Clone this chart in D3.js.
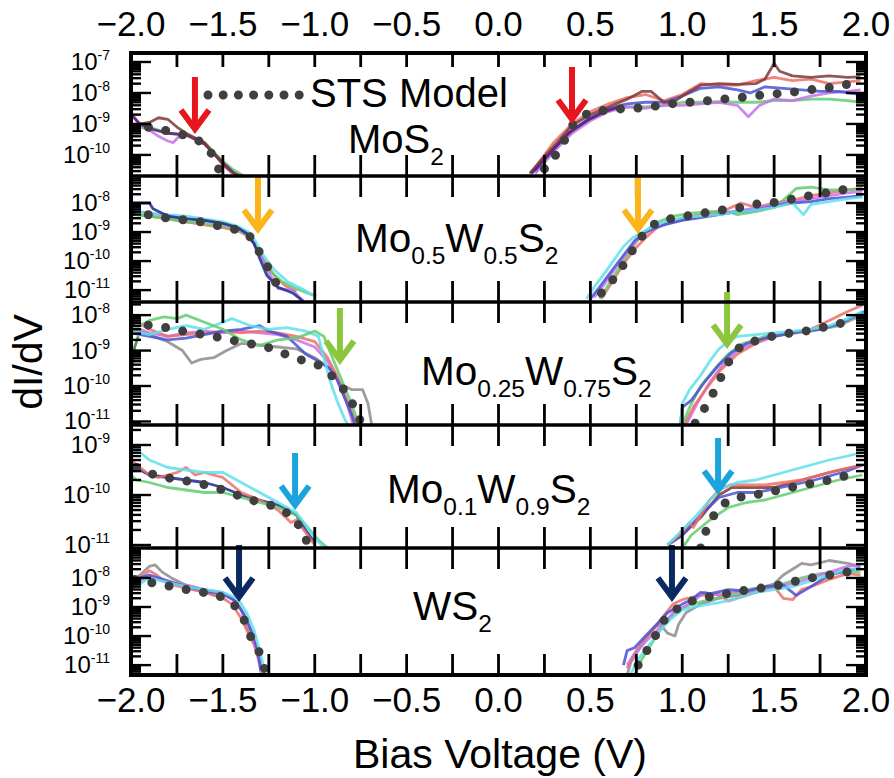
<!DOCTYPE html>
<html><head><meta charset="utf-8">
<script src="https://cdn.jsdelivr.net/npm/d3@7"></script>
<style>body{margin:0;background:#fff;} svg{display:block;font-family:"Liberation Sans",Arial,sans-serif;}</style>
</head><body><svg id="c" width="894" height="778"></svg>
<script>
// ---------------- DATA (values are log10 of dI/dV) ----------------
const xTickValues = [-2.0,-1.5,-1.0,-0.5,0.0,0.5,1.0,1.5,2.0];
const panelNames = ["MoS2","Mo0.5W0.5S2","Mo0.25W0.75S2","Mo0.1W0.9S2","WS2"];
const yDomainsExp = [[-10.68,-6.71],[-11.41,-7.07],[-11.10,-7.63],[-11.06,-8.60],[-11.34,-6.97]];
const yTickExps = [[-7,-8,-9,-10],[-8,-9,-10,-11],[-8,-9,-10,-11],[-9,-10,-11],[-8,-9,-10,-11]];
const arrowV = [[-1.652,0.40],[-1.309,0.759],[-0.863,1.244],[-1.107,1.195],[-1.412,0.944]];
const arrowTipExp = [[-9.26,-8.94],[-9.0,-9.0],[-9.35,-8.9],[-10.26,-9.96],[-8.76,-8.76]];

// Panel 1: MoS2
const p1_model_L = [[-2.0,-9.12],[-1.91,-9.1],[-1.82,-9.2],[-1.72,-9.35],[-1.64,-9.5],[-1.58,-9.8],[-1.55,-10.06],[-1.52,-10.5],[-1.51,-10.6]];
const p1_model_R = [[0.25,-10.45],[0.32,-9.94],[0.37,-9.42],[0.41,-8.97],[0.5,-8.6],[0.6,-8.55],[0.69,-8.5],[0.79,-8.48],[0.88,-8.4],[0.98,-8.32],[1.07,-8.29],[1.17,-8.23],[1.27,-8.17],[1.36,-8.12],[1.46,-8.05],[1.56,-8.0],[1.65,-7.94],[1.75,-7.85],[1.84,-7.8],[1.93,-7.68],[1.97,-7.62]];
const p1_brown_L = [[-2.0,-9.1],[-1.95,-9.0],[-1.9,-8.95],[-1.85,-8.8],[-1.8,-8.85],[-1.75,-9.1],[-1.7,-9.3],[-1.65,-9.45],[-1.6,-9.6],[-1.55,-9.95],[-1.5,-10.3],[-1.45,-10.55],[-1.4,-10.7]];
const p1_violet_L = [[-2.0,-8.6],[-1.95,-9.1],[-1.9,-9.2],[-1.85,-9.4],[-1.8,-9.55],[-1.77,-9.6],[-1.73,-9.35],[-1.68,-9.4],[-1.6,-9.65],[-1.55,-9.95],[-1.5,-10.3],[-1.45,-10.6]];
const p1_green_L = [[-2.0,-9.3],[-1.95,-9.05],[-1.9,-9.1],[-1.85,-9.2],[-1.8,-9.3],[-1.7,-9.35],[-1.6,-9.6],[-1.55,-9.9],[-1.5,-10.2],[-1.45,-10.45],[-1.38,-10.7]];
const p1_purple_L = [[-2.0,-8.7],[-1.95,-9.0],[-1.9,-9.15],[-1.8,-9.3],[-1.7,-9.35],[-1.6,-9.65],[-1.5,-10.25],[-1.42,-10.7]];
const p1_brown_R = [[0.17,-10.6],[0.25,-10.05],[0.32,-9.6],[0.4,-9.05],[0.5,-8.7],[0.6,-8.45],[0.7,-8.2],[0.78,-7.95],[0.83,-7.95],[0.9,-8.3],[0.95,-8.3],[1.0,-8.1],[1.1,-7.75],[1.2,-7.7],[1.3,-7.72],[1.4,-7.7],[1.45,-7.55],[1.5,-7.05],[1.53,-7.3],[1.6,-7.45],[1.7,-7.5],[1.8,-7.45],[1.9,-7.5],[1.97,-7.48]];
const p1_red_R = [[0.18,-10.55],[0.3,-9.6],[0.4,-9.0],[0.5,-8.6],[0.6,-8.35],[0.7,-8.15],[0.8,-8.05],[0.9,-8.25],[1.0,-8.05],[1.1,-7.7],[1.2,-7.75],[1.3,-7.75],[1.4,-7.6],[1.5,-7.5],[1.6,-7.6],[1.7,-7.55],[1.8,-7.7],[1.97,-7.6]];
const p1_blue_R = [[0.2,-10.5],[0.3,-9.8],[0.4,-9.2],[0.5,-8.8],[0.6,-8.5],[0.7,-8.35],[0.8,-8.3],[0.9,-8.3],[1.0,-8.1],[1.1,-7.85],[1.2,-7.8],[1.3,-7.9],[1.37,-8.0],[1.45,-7.8],[1.55,-7.85],[1.65,-7.9],[1.75,-7.95],[1.85,-7.95],[1.97,-8.05]];
const p1_violet_R = [[0.2,-10.6],[0.3,-9.9],[0.4,-9.3],[0.5,-8.9],[0.6,-8.6],[0.7,-8.45],[0.8,-8.5],[0.9,-8.4],[1.0,-8.4],[1.1,-8.35],[1.2,-8.3],[1.3,-8.4],[1.36,-8.77],[1.42,-8.4],[1.5,-8.2],[1.6,-8.25],[1.7,-8.1],[1.8,-8.0],[1.9,-7.95],[1.97,-7.9]];
const p1_green_R = [[0.2,-10.55],[0.3,-9.85],[0.4,-9.25],[0.5,-8.85],[0.6,-8.55],[0.7,-8.45],[0.8,-8.45],[0.9,-8.4],[1.0,-8.3],[1.1,-8.3],[1.2,-8.28],[1.3,-8.3],[1.4,-8.3],[1.5,-8.25],[1.6,-8.25],[1.7,-8.2],[1.8,-8.2],[1.9,-8.25],[1.97,-8.3]];
const p1_purple_R = [[0.18,-10.6],[0.28,-9.95],[0.38,-9.3],[0.48,-8.9],[0.58,-8.6],[0.68,-8.4]];

// Panel 2: Mo0.5W0.5S2
const p2_model_L = [[-2.0,-8.32],[-1.9,-8.41],[-1.8,-8.52],[-1.7,-8.59],[-1.61,-8.66],[-1.52,-8.79],[-1.42,-8.93],[-1.36,-9.1],[-1.33,-9.34],[-1.29,-9.83],[-1.24,-10.38],[-1.2,-10.9],[-1.19,-11.0]];
const p2_model_R = [[0.56,-11.1],[0.57,-11.0],[0.64,-10.52],[0.69,-10.03],[0.74,-9.52],[0.8,-8.97],[0.87,-8.62],[0.96,-8.52],[1.06,-8.41],[1.15,-8.31],[1.25,-8.21],[1.34,-8.14],[1.43,-8.0],[1.53,-7.97],[1.62,-7.83],[1.72,-7.72],[1.82,-7.62],[1.92,-7.48],[1.96,-7.44]];
const p2_darkblue_L = [[-2.0,-8.0],[-1.9,-8.0],[-1.88,-8.2],[-1.8,-8.45],[-1.7,-8.55],[-1.6,-8.6],[-1.5,-8.7],[-1.42,-8.85],[-1.37,-9.05],[-1.33,-9.4],[-1.3,-9.9],[-1.26,-10.5],[-1.2,-10.9],[-1.12,-11.1],[-1.06,-11.4]];
const p2_cyan_L = [[-2.0,-8.3],[-1.9,-8.35],[-1.8,-8.4],[-1.7,-8.45],[-1.6,-8.55],[-1.5,-8.65],[-1.42,-8.8],[-1.36,-9.0],[-1.32,-9.35],[-1.28,-9.8],[-1.22,-10.3],[-1.15,-10.7],[-1.07,-10.95],[-1.0,-11.2]];
const p2_green_L = [[-2.0,-8.4],[-1.9,-8.45],[-1.8,-8.55],[-1.7,-8.65],[-1.6,-8.7],[-1.5,-8.8],[-1.42,-8.9],[-1.35,-9.2],[-1.3,-9.7],[-1.25,-10.3],[-1.18,-10.7],[-1.1,-10.95],[-1.02,-11.15],[-0.99,-11.2]];
const p2_red_L = [[-2.0,-8.35],[-1.9,-8.45],[-1.8,-8.55],[-1.7,-8.65],[-1.6,-8.75],[-1.5,-8.85],[-1.42,-8.95],[-1.36,-9.15],[-1.32,-9.5],[-1.28,-9.95],[-1.22,-10.5],[-1.16,-10.85],[-1.1,-11.05]];
const p2_violet_L = [[-2.0,-8.25],[-1.9,-8.35],[-1.8,-8.45],[-1.7,-8.5],[-1.6,-8.6],[-1.5,-8.7],[-1.42,-8.85],[-1.36,-9.1],[-1.3,-9.7],[-1.25,-10.4],[-1.2,-10.95],[-1.12,-11.0],[-1.06,-11.4]];
const p2_cyan_R = [[0.48,-11.3],[0.52,-10.9],[0.58,-10.4],[0.63,-9.95],[0.68,-9.5],[0.73,-9.2],[0.8,-8.95],[0.9,-8.65],[1.0,-8.5],[1.1,-8.45],[1.2,-8.4],[1.3,-8.3],[1.4,-8.25],[1.5,-8.15],[1.6,-8.0],[1.66,-8.4],[1.7,-8.05],[1.8,-7.95],[1.9,-7.85],[1.98,-7.8]];
const p2_blue_R = [[0.5,-11.3],[0.55,-10.9],[0.62,-10.3],[0.68,-9.8],[0.74,-9.3],[0.8,-9.0],[0.9,-8.75],[1.0,-8.6],[1.1,-8.5],[1.2,-8.4],[1.3,-8.3],[1.4,-8.25],[1.5,-8.1],[1.6,-8.0],[1.7,-7.95],[1.8,-7.85],[1.9,-7.8],[1.98,-7.75]];
const p2_green_R = [[0.55,-11.3],[0.6,-10.8],[0.66,-10.2],[0.72,-9.6],[0.78,-9.1],[0.85,-8.7],[0.95,-8.45],[1.05,-8.35],[1.15,-8.3],[1.25,-8.3],[1.3,-8.4],[1.4,-8.3],[1.5,-8.15],[1.55,-7.9],[1.62,-7.5],[1.7,-7.45],[1.8,-7.55],[1.9,-7.55],[1.98,-7.5]];
const p2_red_R = [[0.56,-11.3],[0.62,-10.7],[0.68,-10.1],[0.74,-9.6],[0.8,-9.2],[0.88,-8.75],[0.95,-8.6],[1.05,-8.45],[1.15,-8.35],[1.25,-8.2],[1.32,-8.0],[1.4,-8.15],[1.5,-8.0],[1.6,-7.9],[1.7,-7.75],[1.8,-7.65],[1.9,-7.55],[1.98,-7.5]];
const p2_violet_R = [[0.52,-11.25],[0.57,-10.85],[0.63,-10.3],[0.69,-9.8],[0.75,-9.3],[0.82,-8.95],[0.92,-8.7],[1.02,-8.55],[1.12,-8.45],[1.22,-8.35],[1.32,-8.25],[1.42,-8.15],[1.5,-8.05],[1.6,-7.95],[1.7,-7.85],[1.8,-7.75],[1.9,-7.65],[1.98,-7.6]];

// Panel 3: Mo0.25W0.75S2
const p3_model_L = [[-2.0,-8.2],[-1.91,-8.28],[-1.82,-8.34],[-1.72,-8.45],[-1.62,-8.54],[-1.53,-8.62],[-1.43,-8.73],[-1.34,-8.82],[-1.24,-8.93],[-1.16,-9.1],[-1.07,-9.27],[-0.98,-9.41],[-0.91,-9.69],[-0.84,-10.11],[-0.79,-10.54],[-0.76,-10.9],[-0.75,-11.0]];
const p3_model_R = [[1.07,-11.05],[1.08,-10.96],[1.13,-10.56],[1.18,-10.09],[1.22,-9.65],[1.26,-9.25],[1.32,-8.86],[1.42,-8.69],[1.51,-8.57],[1.61,-8.49],[1.71,-8.42],[1.8,-8.3],[1.9,-8.19]];
const p3_green_L = [[-2.0,-8.5],[-1.95,-8.3],[-1.9,-8.15],[-1.82,-8.05],[-1.75,-8.1],[-1.7,-8.0],[-1.6,-8.2],[-1.5,-8.4],[-1.4,-8.7],[-1.3,-8.85],[-1.2,-8.7],[-1.1,-8.65],[-1.0,-8.45],[-0.95,-8.6],[-0.92,-9.0],[-0.88,-9.5],[-0.84,-10.0],[-0.8,-10.5],[-0.76,-11.1]];
const p3_gray_L = [[-2.0,-8.4],[-1.9,-8.55],[-1.8,-8.75],[-1.72,-9.0],[-1.67,-9.35],[-1.62,-9.25],[-1.55,-9.2],[-1.48,-9.0],[-1.4,-8.8],[-1.3,-8.85],[-1.2,-8.9],[-1.1,-8.95],[-1.0,-9.2],[-0.92,-9.5],[-0.86,-9.95],[-0.8,-10.1],[-0.74,-10.1],[-0.71,-10.5],[-0.69,-11.1]];
const p3_cyan_L = [[-2.0,-8.45],[-1.9,-8.55],[-1.8,-8.4],[-1.7,-8.3],[-1.6,-8.4],[-1.5,-8.2],[-1.45,-8.1],[-1.35,-8.3],[-1.25,-8.4],[-1.15,-8.35],[-1.05,-8.45],[-0.98,-8.6],[-0.95,-9.2],[-0.92,-9.8],[-0.88,-10.4],[-0.84,-10.9],[-0.82,-11.1]];
const p3_blue_L = [[-2.0,-8.5],[-1.9,-8.6],[-1.8,-8.7],[-1.7,-8.65],[-1.6,-8.55],[-1.5,-8.45],[-1.4,-8.4],[-1.3,-8.3],[-1.25,-8.45],[-1.15,-8.6],[-1.05,-9.1],[-0.98,-9.3],[-0.92,-9.5],[-0.88,-9.8],[-0.84,-10.3],[-0.8,-10.8],[-0.78,-11.1]];
const p3_red_L = [[-2.0,-8.1],[-1.9,-8.4],[-1.8,-8.6],[-1.7,-8.55],[-1.6,-8.5],[-1.5,-8.45],[-1.4,-8.5],[-1.3,-8.45],[-1.2,-8.5],[-1.1,-8.6],[-1.0,-8.75],[-0.93,-9.2],[-0.88,-9.7],[-0.84,-10.2],[-0.8,-10.7],[-0.77,-11.1]];
const p3_violet_L = [[-2.0,-8.3],[-1.9,-8.5],[-1.8,-8.6],[-1.7,-8.5],[-1.6,-8.45],[-1.5,-8.5],[-1.4,-8.45],[-1.3,-8.5],[-1.2,-8.55],[-1.1,-8.7],[-1.0,-8.9],[-0.93,-9.3],[-0.88,-9.8],[-0.83,-10.4],[-0.79,-11.1]];
const p3_darkgreen_L = [[-2.0,-9.8],[-1.99,-9.3],[-1.98,-8.9],[-1.96,-8.6]];
const p3_cyan_R = [[0.99,-11.1],[1.0,-10.5],[1.04,-10.1],[1.1,-9.7],[1.15,-9.3],[1.2,-8.95],[1.25,-8.75],[1.3,-8.6],[1.4,-8.55],[1.5,-8.5],[1.6,-8.45],[1.7,-8.4],[1.8,-8.3],[1.9,-8.1],[1.98,-7.9]];
const p3_blue_R = [[0.99,-11.1],[1.0,-10.6],[1.05,-10.4],[1.12,-9.9],[1.2,-9.4],[1.27,-9.05],[1.35,-8.8],[1.45,-8.65],[1.55,-8.55],[1.65,-8.45],[1.75,-8.4],[1.85,-8.25],[1.95,-8.0],[1.99,-7.9]];
const p3_red_R = [[1.01,-11.1],[1.06,-10.6],[1.12,-10.15],[1.2,-9.6],[1.3,-9.1],[1.4,-8.8],[1.5,-8.6],[1.6,-8.5],[1.7,-8.4],[1.8,-8.15],[1.9,-7.9],[1.98,-7.72]];
const p3_green_R = [[1.0,-11.1],[1.04,-10.6],[1.1,-10.0],[1.18,-9.5],[1.25,-9.1],[1.33,-8.8],[1.45,-8.6],[1.6,-8.5],[1.75,-8.4],[1.85,-8.3],[1.98,-7.95]];
const p3_violet_R = [[1.02,-11.1],[1.08,-10.5],[1.15,-9.9],[1.22,-9.4],[1.3,-9.0],[1.42,-8.7],[1.55,-8.55],[1.7,-8.45],[1.85,-8.3],[1.98,-8.0]];

// Panel 4: Mo0.1W0.9S2
const p4_model_L = [[-1.97,-9.45],[-1.93,-9.53],[-1.84,-9.63],[-1.75,-9.69],[-1.65,-9.75],[-1.56,-9.83],[-1.47,-9.93],[-1.37,-10.08],[-1.29,-10.15],[-1.2,-10.25],[-1.11,-10.45],[-1.07,-10.73],[-1.03,-11.02],[-1.02,-11.06]];
const p4_model_R = [[1.1,-11.06],[1.11,-10.9],[1.14,-10.62],[1.19,-10.29],[1.26,-10.08],[1.35,-10.02],[1.44,-9.97],[1.54,-9.89],[1.63,-9.82],[1.73,-9.75],[1.82,-9.69],[1.92,-9.58]];
const p4_cyan_L = [[-2.0,-9.15],[-1.95,-9.15],[-1.9,-9.3],[-1.8,-9.45],[-1.7,-9.5],[-1.6,-9.55],[-1.5,-9.55],[-1.4,-9.75],[-1.3,-9.95],[-1.2,-10.15],[-1.1,-10.35],[-1.05,-10.6],[-1.0,-10.85],[-0.95,-11.06]];
const p4_green_L = [[-2.0,-9.6],[-1.97,-9.7],[-1.9,-9.75],[-1.8,-9.85],[-1.7,-9.9],[-1.6,-9.95],[-1.5,-9.95],[-1.4,-10.05],[-1.3,-10.15],[-1.2,-10.25],[-1.1,-10.4],[-1.05,-10.6],[-0.98,-10.9],[-0.93,-11.06]];
const p4_red_L = [[-2.0,-9.3],[-1.95,-9.45],[-1.9,-9.6],[-1.85,-9.65],[-1.8,-9.6],[-1.75,-9.55],[-1.7,-9.45],[-1.65,-9.6],[-1.6,-9.55],[-1.5,-9.65],[-1.45,-9.8],[-1.4,-9.95],[-1.3,-10.1],[-1.2,-10.3],[-1.13,-10.55],[-1.1,-10.5],[-1.05,-10.75],[-1.0,-11.0]];
const p4_darkblue_L = [[-2.0,-9.35],[-1.95,-9.5],[-1.9,-9.6],[-1.8,-9.65],[-1.7,-9.7],[-1.6,-9.75],[-1.5,-9.85],[-1.4,-10.0],[-1.3,-10.1],[-1.2,-10.2],[-1.1,-10.4],[-1.05,-10.7],[-1.0,-10.95]];
const p4_cyan_R = [[0.92,-11.0],[1.0,-10.7],[1.08,-10.4],[1.15,-10.1],[1.22,-9.85],[1.3,-9.75],[1.4,-9.7],[1.5,-9.6],[1.6,-9.5],[1.7,-9.4],[1.8,-9.3],[1.9,-9.22],[1.98,-9.15]];
const p4_red_R = [[0.92,-11.0],[1.0,-10.75],[1.04,-10.55],[1.06,-10.65],[1.1,-10.4],[1.15,-10.1],[1.2,-9.9],[1.26,-9.8],[1.35,-9.8],[1.45,-9.8],[1.55,-9.75],[1.65,-9.7],[1.75,-9.6],[1.85,-9.5],[1.98,-9.4]];
const p4_brown_R = [[0.92,-11.0],[1.0,-10.8],[1.1,-10.45],[1.2,-10.0],[1.27,-9.85],[1.35,-9.85],[1.5,-9.85],[1.6,-9.75],[1.7,-9.65],[1.8,-9.55],[1.98,-9.4]];
const p4_green_R = [[1.0,-11.06],[1.05,-10.8],[1.15,-10.5],[1.25,-10.25],[1.35,-10.15],[1.45,-10.1],[1.55,-10.0],[1.65,-9.9],[1.75,-9.8],[1.85,-9.7],[1.98,-9.6]];
const p4_blue_R = [[0.92,-11.0],[1.0,-10.8],[1.1,-10.4],[1.2,-10.05],[1.3,-9.95],[1.4,-9.95],[1.5,-9.88],[1.6,-9.8],[1.7,-9.72],[1.8,-9.62],[1.9,-9.52],[1.98,-9.4]];

// Panel 5: WS2
const p5_model_L = [[-1.98,-8.05],[-1.91,-8.14],[-1.82,-8.24],[-1.72,-8.38],[-1.62,-8.48],[-1.53,-8.59],[-1.45,-8.83],[-1.39,-9.34],[-1.36,-9.9],[-1.31,-10.41],[-1.28,-11.0],[-1.27,-11.2]];
const p5_model_R = [[0.76,-11.0],[0.77,-10.76],[0.83,-10.34],[0.87,-9.76],[0.92,-9.28],[1.02,-8.86],[1.11,-8.69],[1.2,-8.59],[1.29,-8.48],[1.39,-8.38],[1.48,-8.31],[1.58,-8.17],[1.67,-8.03],[1.77,-7.93],[1.87,-7.83],[1.96,-7.72]];
const p5_gray_L = [[-2.0,-8.1],[-1.95,-7.9],[-1.9,-7.6],[-1.87,-7.55],[-1.83,-7.8],[-1.78,-8.0],[-1.7,-8.25],[-1.6,-8.4],[-1.55,-8.6],[-1.5,-8.55],[-1.45,-8.7],[-1.4,-9.1],[-1.37,-9.7],[-1.33,-10.2],[-1.3,-10.8],[-1.28,-11.3]];
const p5_red_L = [[-2.0,-8.2],[-1.95,-8.0],[-1.9,-7.75],[-1.86,-7.9],[-1.8,-8.2],[-1.7,-8.35],[-1.6,-8.5],[-1.5,-8.7],[-1.45,-8.9],[-1.42,-9.2],[-1.4,-9.4],[-1.37,-9.8],[-1.33,-10.3],[-1.3,-10.9],[-1.28,-11.3]];
const p5_blue_L = [[-2.0,-8.3],[-1.95,-8.0],[-1.9,-7.9],[-1.8,-8.1],[-1.7,-8.3],[-1.6,-8.45],[-1.5,-8.55],[-1.43,-8.8],[-1.38,-9.3],[-1.34,-9.9],[-1.31,-10.5],[-1.29,-11.3]];
const p5_cyan_L = [[-2.0,-8.4],[-1.95,-8.2],[-1.9,-8.0],[-1.8,-8.15],[-1.7,-8.3],[-1.6,-8.4],[-1.5,-8.5],[-1.42,-8.7],[-1.37,-9.2],[-1.33,-9.8],[-1.3,-10.5],[-1.28,-11.0],[-1.3,-11.34]];
const p5_violet_L = [[-2.0,-8.25],[-1.95,-8.1],[-1.9,-7.95],[-1.8,-8.15],[-1.7,-8.25],[-1.6,-8.4],[-1.5,-8.5],[-1.44,-8.75],[-1.39,-9.2],[-1.35,-9.8],[-1.32,-10.4],[-1.29,-11.3]];
const p5_gray_R = [[0.7,-11.34],[0.72,-10.9],[0.76,-10.5],[0.8,-10.1],[0.85,-9.7],[0.88,-9.6],[0.92,-9.9],[0.96,-10.0],[0.98,-9.6],[1.02,-9.2],[1.1,-8.9],[1.2,-8.7],[1.3,-8.6],[1.4,-8.4],[1.5,-8.2],[1.55,-7.9],[1.6,-7.7],[1.65,-7.5],[1.7,-7.55],[1.8,-7.4],[1.9,-7.5],[1.97,-7.6]];
const p5_red_R = [[0.7,-11.1],[0.74,-10.6],[0.78,-10.2],[0.84,-9.8],[0.9,-9.3],[0.95,-8.9],[1.0,-8.75],[1.1,-8.6],[1.2,-8.55],[1.25,-8.8],[1.3,-8.7],[1.4,-8.5],[1.5,-8.3],[1.55,-8.7],[1.6,-8.75],[1.65,-8.4],[1.7,-8.3],[1.8,-8.05],[1.9,-7.85],[1.97,-7.9]];
const p5_blue_R = [[0.68,-11.0],[0.7,-10.5],[0.74,-10.4],[0.8,-10.0],[0.86,-9.6],[0.92,-9.2],[1.0,-8.9],[1.05,-8.75],[1.1,-8.5],[1.15,-8.55],[1.25,-8.4],[1.35,-8.45],[1.45,-8.3],[1.55,-8.25],[1.62,-8.6],[1.7,-8.3],[1.8,-7.9],[1.9,-7.75],[1.97,-7.65]];
const p5_cyan_R = [[0.72,-11.3],[0.76,-10.8],[0.82,-10.3],[0.88,-9.8],[0.94,-9.4],[1.0,-9.1],[1.1,-8.95],[1.2,-8.85],[1.3,-8.7],[1.4,-8.5],[1.5,-8.4],[1.6,-8.3],[1.7,-8.1],[1.8,-7.9],[1.9,-7.7],[1.97,-7.7]];
const p5_green_R = [[0.74,-11.34],[0.78,-10.8],[0.84,-10.2],[0.9,-9.6],[0.96,-9.2],[1.05,-8.9],[1.15,-8.75],[1.25,-8.6],[1.35,-8.4],[1.45,-8.3],[1.55,-8.2],[1.65,-8.0],[1.75,-7.85],[1.85,-7.8],[1.97,-7.8]];
const p5_violet_R = [[0.7,-11.0],[0.73,-10.7],[0.8,-10.2],[0.88,-9.7],[0.95,-9.2],[1.05,-8.85],[1.12,-8.5],[1.2,-8.6],[1.3,-8.45],[1.4,-8.5],[1.5,-8.3],[1.6,-8.2],[1.7,-8.0],[1.8,-7.8],[1.9,-7.6],[1.97,-7.55]];

// ---------------- STYLE ----------------
const C = {red:"#ef6f68",brown:"#7c3a36",blue:"#4a52d6",violet:"#c872ea",green:"#62cc6e",cyan:"#5ee0ea",
  gray:"#8c8c8c",darkblue:"#1d2a8c",purple:"#5a1a7a",darkgreen:"#2e7d32",model:"#3f3f3f"};
const arrowColors = ["#e8161c","#fbb51a","#8cc63f","#1ba4dc","#0c2a62"];
const FONT = '"Liberation Sans",Arial,sans-serif';

const panelSeries = [
  [["violet",p1_violet_L],["green",p1_green_L],["purple",p1_purple_L],["brown",p1_brown_L],
   ["green",p1_green_R],["violet",p1_violet_R],["red",p1_red_R],["blue",p1_blue_R],["brown",p1_brown_R],["purple",p1_purple_R]],
  [["red",p2_red_L],["green",p2_green_L],["violet",p2_violet_L],["cyan",p2_cyan_L],["darkblue",p2_darkblue_L],
   ["red",p2_red_R],["green",p2_green_R],["violet",p2_violet_R],["blue",p2_blue_R],["cyan",p2_cyan_R]],
  [["darkgreen",p3_darkgreen_L],["gray",p3_gray_L],["violet",p3_violet_L],["red",p3_red_L],["blue",p3_blue_L],["cyan",p3_cyan_L],["green",p3_green_L],
   ["violet",p3_violet_R],["red",p3_red_R],["green",p3_green_R],["blue",p3_blue_R],["cyan",p3_cyan_R]],
  [["darkblue",p4_darkblue_L],["red",p4_red_L],["green",p4_green_L],["cyan",p4_cyan_L],
   ["green",p4_green_R],["brown",p4_brown_R],["blue",p4_blue_R],["red",p4_red_R],["cyan",p4_cyan_R]],
  [["gray",p5_gray_L],["red",p5_red_L],["violet",p5_violet_L],["blue",p5_blue_L],["cyan",p5_cyan_L],
   ["gray",p5_gray_R],["red",p5_red_R],["green",p5_green_R],["violet",p5_violet_R],["blue",p5_blue_R],["cyan",p5_cyan_R]]
];
const panelModels = [[p1_model_L,p1_model_R],[p2_model_L,p2_model_R],[p3_model_L,p3_model_R],[p4_model_L,p4_model_R],[p5_model_L,p5_model_R]];

// ---------------- DRAW ----------------
const svg = d3.select("#c");
const left = 131, right = 866;
const bounds = [53,176,302,425,548,675];
const x = d3.scaleLinear().domain([-2,2]).range([left,right]);
const defs = svg.append("defs");

bounds.slice(0,5).forEach((top,i)=>{
  const bot = bounds[i+1];
  const dom = yDomainsExp[i];
  const y = d3.scaleLog().domain([Math.pow(10,dom[0]),Math.pow(10,dom[1])]).range([bot,top]);
  const g = svg.append("g");
  defs.append("clipPath").attr("id","clip"+i).append("rect")
    .attr("x",left).attr("y",top).attr("width",right-left).attr("height",bot-top);
  const plot = g.append("g").attr("clip-path","url(#clip"+i+")");
  const line = d3.line().x(d=>x(d[0])).y(d=>y(Math.pow(10,d[1])));
  panelSeries[i].forEach(([col,pts])=>{
    plot.append("path").attr("d",line(pts)).attr("fill","none").attr("stroke",C[col])
      .attr("stroke-width",2.8).attr("stroke-opacity",0.85).attr("stroke-linejoin","round");
  });
  panelModels[i].forEach(pts=>{
    plot.append("path").attr("d",line(pts)).attr("fill","none").attr("stroke",C.model)
      .attr("stroke-width",9).attr("stroke-linecap","round").attr("stroke-dasharray","0,17.5");
  });
  // y ticks
  const lo = Math.floor(dom[0]), hi = Math.ceil(dom[1]);
  for(let k=lo;k<=hi;k++){
    for(let m=1;m<=9;m++){
      const v = m*Math.pow(10,k);
      const yy = y(v);
      if(yy<top+1||yy>bot-1) continue;
      const len = m===1?20:10;
      g.append("line").attr("x1",left).attr("x2",left+len).attr("y1",yy).attr("y2",yy).attr("stroke","#000").attr("stroke-width",2.4);
      g.append("line").attr("x1",right).attr("x2",right-len).attr("y1",yy).attr("y2",yy).attr("stroke","#000").attr("stroke-width",2.4);
    }
  }
  // x ticks (inward, every 0.25)
  const topLen = i===0?14:21;
  d3.range(-1.75,2.0,0.25).forEach(v=>{
    g.append("line").attr("x1",x(v)).attr("x2",x(v)).attr("y1",top).attr("y2",top+topLen).attr("stroke","#000").attr("stroke-width",2.8);
    g.append("line").attr("x1",x(v)).attr("x2",x(v)).attr("y1",bot).attr("y2",bot-21).attr("stroke","#000").attr("stroke-width",2.8);
  });
  // y tick labels
  yTickExps[i].forEach(k=>{
    const yy = y(Math.pow(10,k));
    const t = svg.append("text").attr("x",110).attr("y",yy+8).attr("text-anchor","end")
      .attr("font-family",FONT).attr("font-size",24).attr("fill","#000");
    t.append("tspan").text("10");
    t.append("tspan").attr("dy",-10).attr("font-size",14).text(String(k));
  });
  // arrows
  arrowV[i].forEach((v,j)=>{
    const ax = x(v), tip = y(Math.pow(10,arrowTipExp[i][j]));
    svg.append("path").attr("d",`M${ax},${tip-55}L${ax},${tip-3}M${ax-14},${tip-22}L${ax},${tip-3}L${ax+14},${tip-22}`)
      .attr("fill","none").attr("stroke",arrowColors[i]).attr("stroke-width",6).attr("stroke-linejoin","miter").attr("stroke-linecap","butt");
  });
});

// panel separators and frame
bounds.slice(1,5).forEach(b=>{
  svg.append("line").attr("x1",left).attr("x2",right).attr("y1",b).attr("y2",b).attr("stroke","#000").attr("stroke-width",3.5);
});
svg.append("rect").attr("x",left).attr("y",bounds[0]).attr("width",right-left).attr("height",bounds[5]-bounds[0])
  .attr("fill","none").attr("stroke","#000").attr("stroke-width",4);

// x tick labels top and bottom
xTickValues.forEach(v=>{
  [36,712].forEach(yy=>{
    svg.append("text").attr("x",x(v)).attr("y",yy).attr("text-anchor","middle")
      .attr("font-family",FONT).attr("font-size",35).attr("fill","#000").text(d3.format(".1f")(v));
  });
});

// axis titles
svg.append("text").attr("x",500).attr("y",768).attr("text-anchor","middle").attr("font-family",FONT)
  .attr("font-size",41).text("Bias Voltage (V)");
svg.append("text").attr("transform","translate(42,362) rotate(-90)").attr("text-anchor","middle").attr("font-family",FONT)
  .attr("font-size",41).text("dI/dV");

// legend
svg.append("line").attr("x1",208).attr("x2",300).attr("y1",95).attr("y2",95).attr("stroke",C.model)
  .attr("stroke-width",9).attr("stroke-linecap","round").attr("stroke-dasharray","0,15.2");
svg.append("text").attr("x",310).attr("y",107).attr("font-family",FONT).attr("font-size",40).text("STS Model");

// panel labels with subscripts
const labelPos = [[348,153],[355,252],[421,385],[387,503],[413,620]];
const labelParts = [
  [["MoS",0],["2",1]],
  [["Mo",0],["0.5",1],["W",0],["0.5",1],["S",0],["2",1]],
  [["Mo",0],["0.25",1],["W",0],["0.75",1],["S",0],["2",1]],
  [["Mo",0],["0.1",1],["W",0],["0.9",1],["S",0],["2",1]],
  [["WS",0],["2",1]]
];
labelParts.forEach((parts,i)=>{
  const t = svg.append("text").attr("x",labelPos[i][0]).attr("y",labelPos[i][1]).attr("font-family",FONT).attr("font-size",i===0?40:40.5);
  let sub=false;
  parts.forEach(([s,isSub])=>{
    const ts = t.append("tspan").text(s);
    if(isSub && !sub){ts.attr("dy",12).attr("font-size",24.5);sub=true;}
    else if(isSub){ts.attr("font-size",24.5);}
    else if(!isSub && sub){ts.attr("dy",-12);sub=false;}
  });
});
</script></body></html>
